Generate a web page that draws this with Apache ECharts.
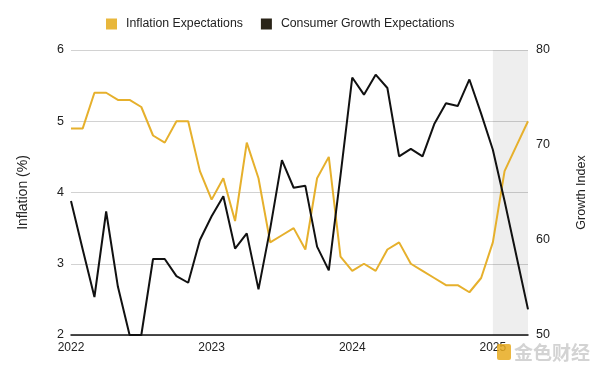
<!DOCTYPE html>
<html>
<head>
<meta charset="utf-8">
<script src="https://cdn.jsdelivr.net/npm/echarts@6/dist/echarts.min.js"></script>
<style>
html,body{margin:0;padding:0;background:#fff;}
#chart{width:600px;height:374px;}
</style>
</head>
<body>
<div id="chart"></div>
<script>
// Months Jan 2022 .. Apr 2025
var months = [
  '2022-01','2022-02','2022-03','2022-04','2022-05','2022-06','2022-07','2022-08','2022-09','2022-10','2022-11','2022-12',
  '2023-01','2023-02','2023-03','2023-04','2023-05','2023-06','2023-07','2023-08','2023-09','2023-10','2023-11','2023-12',
  '2024-01','2024-02','2024-03','2024-04','2024-05','2024-06','2024-07','2024-08','2024-09','2024-10','2024-11','2024-12',
  '2025-01','2025-02','2025-03','2025-04'
];
var inflationExpectations = [
  4.9,4.9,5.4,5.4,5.3,5.3,5.2,4.8,4.7,5.0,5.0,4.3,
  3.9,4.2,3.6,4.7,4.2,3.3,3.4,3.5,3.2,4.2,4.5,3.1,
  2.9,3.0,2.9,3.2,3.3,3.0,2.9,2.8,2.7,2.7,2.6,2.8,
  3.3,4.3,4.65,5.0
];
var consumerGrowthExpectations = [
  64.1,59.0,54.0,63.0,55.1,50.0,50.0,58.0,58.0,56.2,55.5,60.0,
  62.5,64.6,59.1,60.7,54.8,61.2,68.4,65.5,65.7,59.3,56.8,66.8,
  77.1,75.3,77.4,76.0,68.8,69.6,68.8,72.2,74.4,74.1,76.9,73.3,
  69.5,64.1,58.4,52.7
];
var seriesNames = ['Inflation Expectations', 'Consumer Growth Expectations'];
var shadeRange = ['2025-01', '2025-04'];

var FONT = 'Liberation Sans, Arial, sans-serif';
var chart = echarts.init(document.getElementById('chart'), null, {renderer: 'canvas'});
chart.setOption({
  animation: false,
  backgroundColor: '#ffffff',
  textStyle: {fontFamily: FONT},
  legend: {
    left: 106, top: 18, padding: 0,
    itemWidth: 11, itemHeight: 11, itemGap: 18,
    icon: 'rect',
    textStyle: {fontFamily: FONT, fontSize: 12.3, color: '#222', padding: [0,0,0,4]},
    data: seriesNames
  },
  grid: {left: 71, right: 72, top: 50, bottom: 39, containLabel: false},
  xAxis: {
    type: 'category',
    data: months,
    boundaryGap: false,
    axisLine: {show: true, lineStyle: {color: '#111', width: 1.5}},
    axisTick: {show: false},
    splitLine: {show: false},
    axisLabel: {
      interval: function (i, v) { return v.slice(5) === '01'; },
      formatter: function (v) { return v.slice(0, 4); },
      fontFamily: FONT, fontSize: 12, color: '#222', margin: 7
    }
  },
  yAxis: [
    {
      type: 'value', min: 2, max: 6, interval: 1,
      name: 'Inflation (%)', nameLocation: 'middle', nameGap: 41, nameRotate: 90,
      nameTextStyle: {fontFamily: FONT, fontSize: 14, color: '#222'},
      axisLine: {show: false}, axisTick: {show: false},
      axisLabel: {fontFamily: FONT, fontSize: 12.5, color: '#222', margin: 7},
      splitLine: {show: true, lineStyle: {color: '#d2d2d2', width: 1}}
    },
    {
      type: 'value', min: 50, max: 80, interval: 10,
      name: 'Growth Index', nameLocation: 'middle', nameGap: 47, nameRotate: 90,
      nameTextStyle: {fontFamily: FONT, fontSize: 12.5, color: '#222'},
      axisLine: {show: false}, axisTick: {show: false},
      axisLabel: {fontFamily: FONT, fontSize: 12.5, color: '#222', margin: 8},
      splitLine: {show: false}
    }
  ],
  series: [
    {
      name: seriesNames[0], type: 'line', yAxisIndex: 0,
      data: inflationExpectations,
      symbol: 'none', smooth: false,
      lineStyle: {color: '#E6B02C', width: 2},
      itemStyle: {color: '#E8B73C'},
      markArea: {
        silent: true,
        itemStyle: {color: 'rgba(0,0,0,0.065)'},
        data: [[{xAxis: shadeRange[0]}, {xAxis: shadeRange[1]}]]
      },
      z: 3
    },
    {
      name: seriesNames[1], type: 'line', yAxisIndex: 1,
      data: consumerGrowthExpectations,
      symbol: 'none', smooth: false,
      lineStyle: {color: '#111111', width: 2},
      itemStyle: {color: '#2a2418'},
      z: 4
    }
  ],
  graphic: [
    {type: 'rect', left: 497, top: 344, shape: {width: 14, height: 16, r: 2},
     style: {fill: 'rgba(232,170,30,0.85)'}, z: 10},
    {type: 'text', left: 514, top: 343,
     style: {text: '金色财经', fill: 'rgba(200,200,200,0.8)', fontSize: 19,
             fontFamily: 'Noto Sans CJK SC', fontWeight: 'bold'}, z: 10}
  ]
});
</script>
</body>
</html>
